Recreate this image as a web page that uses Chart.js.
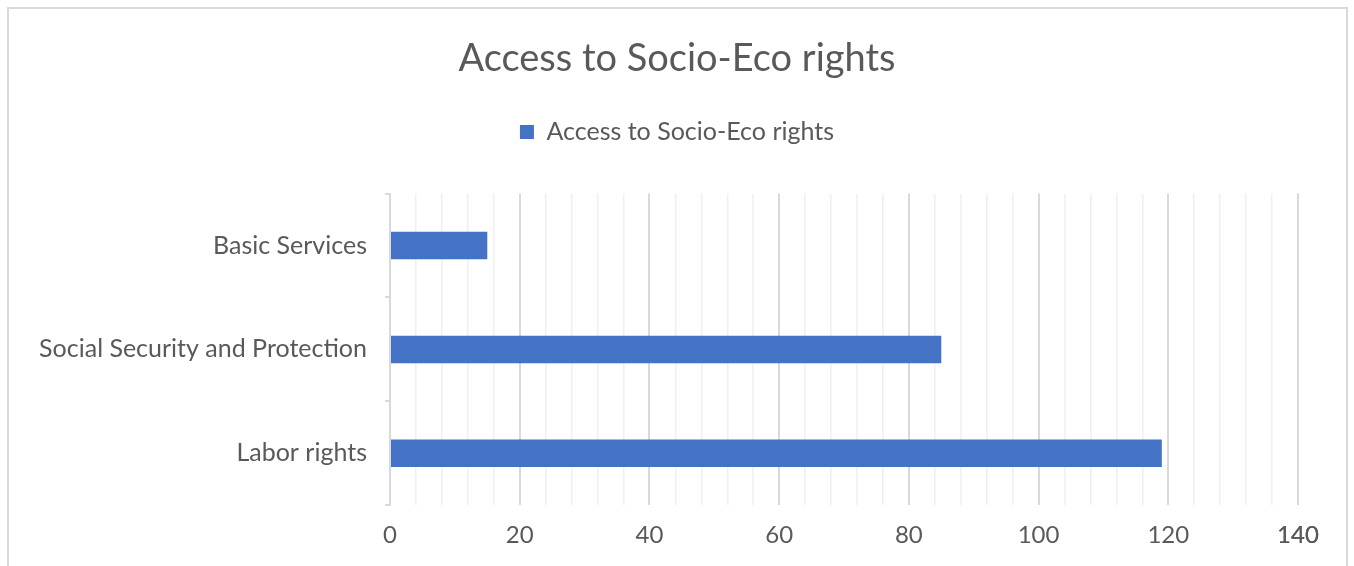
<!DOCTYPE html>
<html><head><meta charset="utf-8">
<script src="https://cdn.jsdelivr.net/npm/chart.js@4"></script>
<style>
html,body{margin:0;padding:0;background:#fff;width:1354px;height:566px;overflow:hidden}
#frame{position:absolute;left:7px;top:7px;width:1341px;height:570px;border:2px solid #d9d9d9;box-sizing:border-box}
#wrap{position:absolute;left:0;top:0;width:1354px;height:566px}
</style></head><body>
<div id="frame"></div>
<div id="wrap"><canvas id="c" width="1354" height="566"></canvas></div>
<script>
const categories = ['Basic Services', 'Social Security and Protection', 'Labor rights'];
const values = [15, 85, 119];
const seriesName = 'Access to Socio-Eco rights';
const chartTitle = 'Access to Socio-Eco rights';
const majorTicks = [0, 20, 40, 60, 80, 100, 120, 140];

const FONT = 'Lato, "Open Sans", sans-serif';

const legendSpacer = {
  id: 'legendSpacer',
  afterInit(chart) {
    const lg = chart.legend;
    if (!lg) return;
    const orig = lg.fit;
    lg.fit = function () { orig.call(this); this.height += 39; };
  }
};

new Chart(document.getElementById('c'), {
  type: 'bar',
  data: {
    labels: categories,
    datasets: [{
      label: seriesName,
      data: values,
      backgroundColor: '#4472c4',
      borderWidth: 0,
      barPercentage: 0.265,
      categoryPercentage: 1.0
    }]
  },
  plugins: [legendSpacer],
  options: {
    indexAxis: 'y',
    responsive: false,
    animation: false,
    layout: { padding: { left: 40, right: 40, top: 36, bottom: 0 } },
    plugins: {
      title: {
        display: true, text: chartTitle, color: '#595959',
        font: { family: FONT, size: 38, weight: 'normal' },
        padding: { top: 0, bottom: 30 }
      },
      legend: {
        display: true, position: 'top',
        labels: { color: '#595959', font: { family: FONT, size: 25 }, boxWidth: 14, boxHeight: 14, padding: 8 }
      },
      tooltip: { enabled: false }
    },
    scales: {
      x: {
        min: 0, max: 140,
        ticks: {
          autoSkip: false, maxRotation: 0,
          color: '#595959', font: { family: FONT, size: 24 }, padding: 16,
          callback: (v) => majorTicks.includes(v) ? String(v) : ''
        },
        afterBuildTicks: (s) => { const t = []; for (let v = 0; v <= 140; v += 4) t.push({ value: v }); t.push({ value: 140 }); s.ticks = t; },
        grid: {
          drawTicks: false,
          color: (ctx) => (ctx.tick && ctx.tick.value % 20 === 0) ? '#d9d9d9' : '#f0f0f0',
          lineWidth: (ctx) => (ctx.tick && ctx.tick.value % 20 === 0) ? 2 : 1.5
        },
        border: { display: false }
      },
      y: {
        ticks: { color: '#595959', font: { family: FONT, size: 25 }, padding: 18 },
        grid: { drawOnChartArea: false, drawTicks: true, tickLength: 5, offset: true, color: '#d9d9d9', lineWidth: 2 },
        border: { display: true, color: '#d9d9d9', width: 2 },
        afterFit: (s) => { s.width = 350; }
      },
      ySpacer: {
        type: 'linear', axis: 'y', position: 'right', min: 0, max: 1, display: true,
        ticks: { display: false },
        grid: { display: false, drawTicks: false },
        border: { display: false },
        afterFit: (s) => { s.width = 16; }
      }
    }
  }
});
</script>
</body></html>
